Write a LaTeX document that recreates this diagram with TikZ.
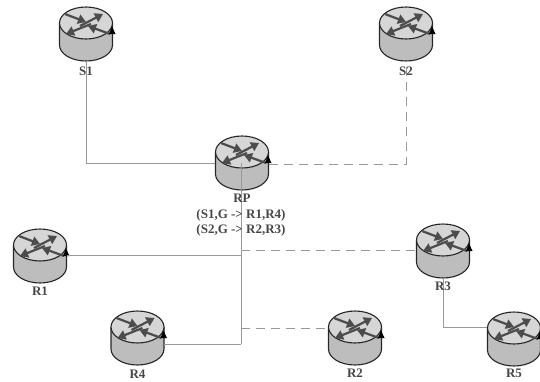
\documentclass[tikz,border=0pt]{standalone}
\usepackage{fontspec}
\setmainfont{Liberation Serif}
\usetikzlibrary{arrows.meta}
\definecolor{topgray}{gray}{0.84}
\definecolor{bodygray}{gray}{0.74}
\definecolor{arrowgray}{gray}{0.30}
\definecolor{linegray}{gray}{0.60}
\tikzset{
  x=1pt,y=-1pt,
  rim/.style={draw=black!85,line width=1.1pt},
  flow/.style={draw=arrowgray,line width=2.2pt,-{Triangle[length=8pt,width=9.5pt]}},
  solidlink/.style={draw=linegray,line width=1pt},
  dashlink/.style={draw=linegray,line width=1pt,dash pattern=on 9pt off 6pt},
  rlabel/.style={font=\bfseries\fontsize{13}{15}\selectfont,text=black!72,inner sep=0pt},
}
% #1 name, #2 x, #3 y (centre of the top ellipse)
\newcommand{\routerbox}[3]{%
  \begin{scope}[shift={(#2,#3)}]
    \fill[bodygray] (-26.5,0) -- (-26.5,22) arc[start angle=180,end angle=0,x radius=26.5,y radius=16] -- (26.5,0) -- cycle;
    \draw[rim] (-26.5,0) -- (-26.5,22) arc[start angle=180,end angle=0,x radius=26.5,y radius=16] -- (26.5,0);
    \draw[rim,fill=topgray] (0,0) ellipse[x radius=26.5,y radius=16];
    \draw[flow] (-6,3) -- (17,-9);
    \draw[flow] (-21,-9) -- (0,-1);
    \draw[flow] (5,1) -- (-20,11);
    \draw[flow] (24,11) -- (2,3);
    \fill[black] (23,11) -- (29.5,11) -- (26,3.5) -- cycle;
  \end{scope}
  \node[minimum width=53pt,minimum height=54pt,inner sep=0pt] (#1) at (#2,#3+11) {};
}
\begin{document}
\begin{tikzpicture}
\useasboundingbox (0,0) rectangle (540,381);
\routerbox{S1}{86}{23}
\routerbox{S2}{406}{23}
\routerbox{R1}{40}{245}
\routerbox{R3}{443}{240}
\routerbox{R4}{137.5}{327}
\routerbox{R2}{355}{327}
\routerbox{R5}{514}{328}
\routerbox{RP}{242}{152}
\coordinate (jS2) at (406,164);
\coordinate (jS1) at (86,163);
\coordinate (busTop) at (241,163);
\coordinate (busBot) at (241,344);
\coordinate (jR1) at (241,255);
\coordinate (jR3) at (241,250);
\coordinate (jR2) at (241,328);
\coordinate (jR5) at (443,327);
\draw[solidlink] (S1.south) -- (jS1) -- (RP.west |- jS1);
\draw[dashlink] (RP.east |- jS2) -- (jS2) -- (S2.south);
\draw[solidlink] (busTop) -- (busBot);
\draw[solidlink] (R1.east |- jR1) -- (jR1);
\draw[dashlink] (jR3) -- (R3.west |- jR3);
\draw[solidlink] (R4.east |- busBot) -- (busBot);
\draw[dashlink] (jR2) -- (R2.west |- jR2);
\draw[solidlink] (R3.south) -- (jR5) -- (R5.west |- jR5);
\node[rlabel] (lS1) at (86,71) {S1};
\node[rlabel] (lS2) at (406,71) {S2};
\node[rlabel] (lR1) at (40,291) {R1};
\node[rlabel] (lR3) at (443,286) {R3};
\node[rlabel] (lR4) at (137.5,374) {R4};
\node[rlabel] (lR2) at (355,373) {R2};
\node[rlabel] (lR5) at (514,373) {R5};
\node[rlabel] (lRP) at (242,198) {RP};
\node[rlabel] (t1) at (241,215) {(S1,G -> R1,R4)};
\node[rlabel] (t2) at (241,230) {(S2,G -> R2,R3)};
\end{tikzpicture}
\end{document}
